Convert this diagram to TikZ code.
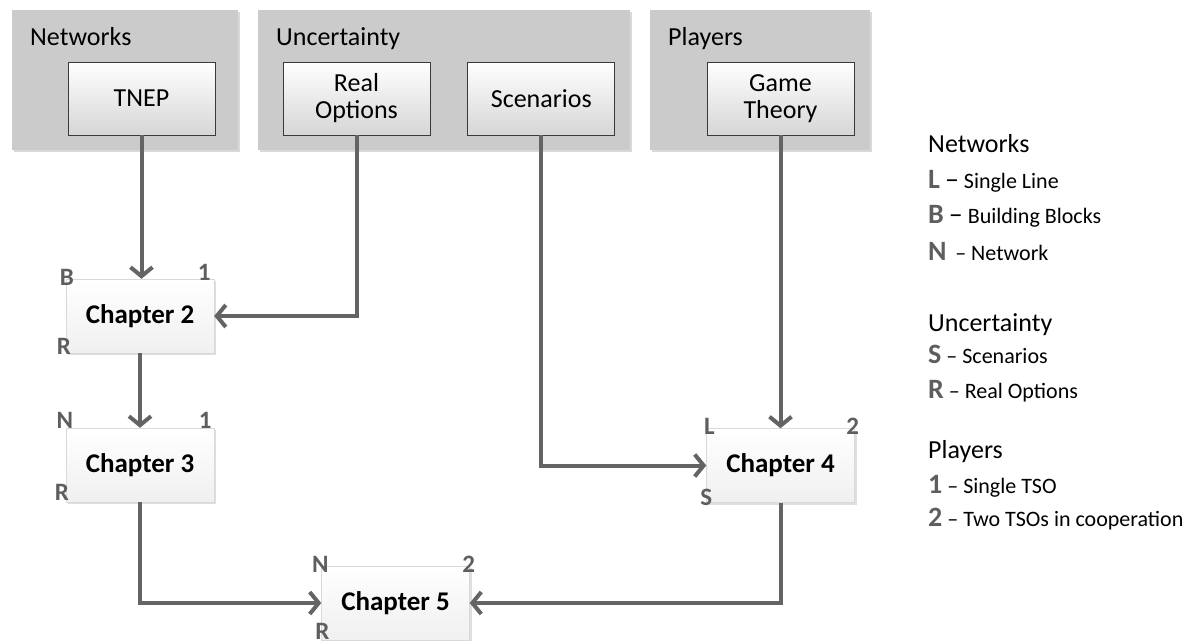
\documentclass[tikz,border=0pt]{standalone}
\usepackage{fontspec}
\setmainfont{Carlito}
\usetikzlibrary{arrows.meta,positioning,calc,shadows}
\definecolor{GroupGrey}{HTML}{CBCBCB}
\definecolor{BoxEdge}{HTML}{3A3A3A}
\definecolor{TagGrey}{HTML}{5E5E5E}
\definecolor{ArrowGrey}{HTML}{646464}
\newcommand{\legletter}[1]{{\fontsize{28}{28}\selectfont\bfseries\color{TagGrey}#1}}
\newcommand{\bigdash}{{\fontsize{28}{28}\selectfont –}}

\begin{document}
\begin{tikzpicture}[x=1pt, y=-1pt, font=\fontsize{26}{27}\selectfont, node distance=37pt,
   grp/.style={fill=GroupGrey, inner sep=0pt, anchor=north west, minimum height=140pt,
               drop shadow={opacity=0.3, shadow xshift=2pt, shadow yshift=-2pt}},
   hdr/.style={anchor=base west, inner sep=0pt},
   src/.style={draw=BoxEdge, thick, top color=white, bottom color=black!16,
               minimum width=147pt, minimum height=73pt, align=center, inner sep=2pt},
   chap/.style={draw=black!15, top color=white, bottom color=black!6,
                minimum width=148pt, minimum height=74pt, font=\fontsize{27}{28}\selectfont\bfseries,
                drop shadow={opacity=0.25, shadow xshift=2pt, shadow yshift=-2pt}},
   tag/.style={text=TagGrey, font=\fontsize{25}{25}\selectfont\bfseries, inner sep=0pt},
   arr/.style={draw=ArrowGrey, line width=4pt, -{Straight Barb[length=9pt, width=22pt]}},
   leg/.style={anchor=base west, inner sep=0pt, font=\fontsize{22}{22}\selectfont}]
  \useasboundingbox (0,0) rectangle (1186,640);

  % Gruppen oben
  \node[grp, minimum width=226pt] (netgrp) at (12,10) {};
  \node[grp, minimum width=372pt] (uncgrp) at (258,10) {};
  \node[grp, minimum width=220pt] (plygrp) at (650,10) {};
  \node[hdr] (nethdr) at (30,45) {Networks};
  \node[hdr] (unchdr) at (276,45) {Uncertainty};
  \node[hdr] (plyhdr) at (668,45) {Players};

  \node[src] (tnep) at (141.5,98.5) {TNEP};
  \node[src] (realopt) at (356.5,98.5) {Real\\Options};
  \node[src, right=of realopt] (scen) {Scenarios};
  \node[src] (game) at (780.5,98.5) {Game\\Theory};

  % Kapitel
  \node[chap] (ch2) at (140,316) {Chapter 2};
  \node[chap] (ch3) at (140,465) {Chapter 3};
  \node[chap] (ch4) at (780.5,465.5) {Chapter 4};
  \node[chap] (ch5) at (395.5,603) {Chapter 5};

  \node[tag] (ch2b) at ([shift={(1,-1)}]ch2.north west) {B};
  \node[tag] (ch2one) at ([shift={(-10,-6)}]ch2.north east) {1};
  \node[tag] (ch2r) at ([shift={(-2,-7)}]ch2.south west) {R};
  \node[tag] (ch3n) at ([shift={(-1,-7)}]ch3.north west) {N};
  \node[tag] (ch3one) at ([shift={(-9,-7)}]ch3.north east) {1};
  \node[tag] (ch3r) at ([shift={(-4,-10)}]ch3.south west) {R};
  \node[tag] (ch4l) at ([shift={(3,-2)}]ch4.north west) {L};
  \node[tag] (ch4two) at ([shift={(-2,-2)}]ch4.north east) {2};
  \node[tag] (ch4s) at ([shift={(0,-5)}]ch4.south west) {S};
  \node[tag] (ch5n) at ([shift={(-1,-1)}]ch5.north west) {N};
  \node[tag] (ch5two) at ([shift={(-1,-2)}]ch5.north east) {2};
  \node[tag] (ch5r) at ([shift={(1,-9)}]ch5.south west) {R};

  % Pfeile
  \draw[arr] (tnep.south) -- (tnep.south |- ch2.north);
  \draw[arr] (realopt.south) |- (ch2.east);
  \draw[arr] (ch2) -- (ch3);
  \draw[arr] (scen.south) |- (ch4.west);
  \draw[arr] (game.south) -- (game.south |- ch4.north);
  \draw[arr] (ch3.south) |- (ch5.west);
  \draw[arr] (ch4.south) |- (ch5.east);

  % Legende
  \node[hdr] (legnet) at (928,152) {Networks};
  \node[leg] (legl) at (928,188) {\legletter{L} \bigdash\ Single Line};
  \node[leg] (legb) at (928,223) {\legletter{B} \bigdash\ Building Blocks};
  \node[leg] (legn) at (928,260) {\legletter{N} \,– Network};
  \node[hdr] (legunc) at (928,331) {Uncertainty};
  \node[leg] (legs) at (928,363) {\legletter{S} – Scenarios};
  \node[leg] (legr) at (928,398) {\legletter{R} – Real Options};
  \node[hdr] (legply) at (928,458) {Players};
  \node[leg] (legone) at (928,493) {\legletter{1} – Single TSO};
  \node[leg] (legtwo) at (928,526) {\legletter{2} – Two TSOs in cooperation};
\end{tikzpicture}
\end{document}
